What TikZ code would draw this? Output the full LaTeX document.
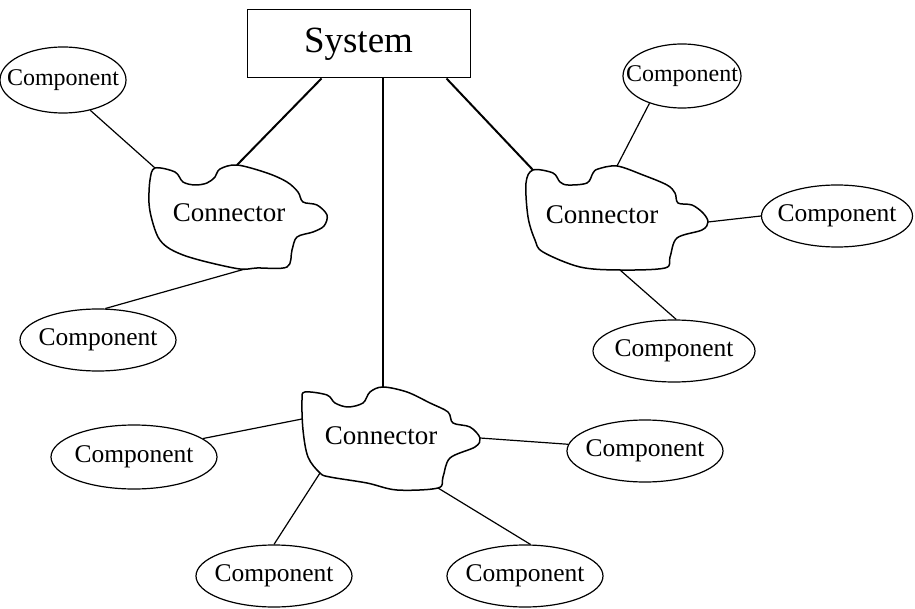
\documentclass[tikz,border=0pt]{standalone}
\usepackage{fontspec}
\setmainfont{Liberation Serif}
\usetikzlibrary{shapes.geometric}
\begin{document}
\begin{tikzpicture}[x=1pt,y=-1pt,
  comp/.style={draw, ellipse, line width=1.2pt, inner sep=0pt},
  comptext/.style={font=\fontsize{25.5}{25.5}\selectfont, inner sep=0pt},
  smalltext/.style={font=\fontsize{24}{24}\selectfont, inner sep=0pt},
  conntext/.style={font=\fontsize{27}{27}\selectfont, inner sep=0pt},
  blob/.style={line width=1.5pt, line join=round},
  sysbox/.style={draw, line width=1pt, minimum width=223pt, minimum height=68pt, inner sep=0pt, font=\fontsize{37}{37}\selectfont},
  sysline/.style={line width=2pt},
  link/.style={line width=1.2pt}]
\useasboundingbox (0,0) rectangle (915,609);

% system box
\node[sysbox] (sys) at (358.5,44) {System};
\path (sys.south west) ++(75,0) coordinate (s1);
\path (sys.south west) ++(200,0) coordinate (s3);

% connector blobs
\draw[blob] plot[smooth cycle, tension=0.55] coordinates {
 (155,168) (175,172) (183,182) (195,185) (207,183) (215,177) (220,169) (237,165)
 (267,173) (287,182) (298,192) (303,202) (317,205) (327,215) (324,226) (313,232)
 (297,237) (292,250) (287,267) (257,268) (240,269) (207,262) (183,255) (167,247)
 (158,237) (152,220) (149,203) (150,180)};
\node[conntext] (k1) at (229,213) {Connector};
\coordinate (k1a) at (237,165);
\coordinate (k1b) at (155,168);
\coordinate (k1c) at (245,269);

\draw[blob] plot[smooth cycle, tension=0.55] coordinates {
 (533,170) (553,173) (560,182) (568,185) (587,183) (593,173) (598,169) (617,166)
 (643,175) (667,185) (675,193) (678,203) (692,205) (703,213) (708,222) (702,230)
 (677,238) (670,257) (665,268) (620,270) (580,267) (543,252) (535,240) (528,217)
 (526,183)};
\node[conntext] (k2) at (602,215) {Connector};
\coordinate (k2a) at (533,170);
\coordinate (k2b) at (617,166);
\coordinate (k2c) at (708,222);
\coordinate (k2d) at (620,270);

\draw[blob] plot[smooth cycle, tension=0.55] coordinates {
 (305,392) (327,395) (335,403) (348,407) (363,403) (370,392) (383,387) (407,392)
 (430,403) (448,412) (453,423) (470,427) (480,438) (475,447) (450,458) (443,477)
 (438,488) (397,490) (367,483) (330,477) (320,473) (308,457) (303,430) (302,400)};
\node[conntext] (k3) at (381,436) {Connector};
\coordinate (k3a) at (383,387);
\coordinate (k3b) at (302,419);
\coordinate (k3c) at (480,438);
\coordinate (k3d) at (320,473);
\coordinate (k3e) at (438,488);

% components
\node[comp, minimum width=126pt, minimum height=66pt, label={[smalltext]center:Component}] (c1) at (63,80) {};
\node[comp, minimum width=156pt, minimum height=62pt, label={[comptext]center:Component}] (c2) at (98,340) {};
\node[comp, minimum width=118pt, minimum height=64pt, label={[smalltext]center:Component}] (c3) at (682,76) {};
\node[comp, minimum width=151pt, minimum height=62pt, label={[comptext]center:Component}] (c4) at (837,216) {};
\node[comp, minimum width=162pt, minimum height=62pt, label={[comptext]center:Component}] (c5) at (674,351) {};
\node[comp, minimum width=166pt, minimum height=64pt, label={[comptext]center:Component}] (c6) at (134,457) {};
\node[comp, minimum width=156pt, minimum height=62pt, label={[comptext]center:Component}] (c7) at (645,451) {};
\node[comp, minimum width=156pt, minimum height=62pt, label={[comptext]center:Component}] (c8) at (274,576) {};
\node[comp, minimum width=156pt, minimum height=62pt, label={[comptext]center:Component}] (c9) at (525,576) {};

% system links
\draw[sysline] (s1) -- (k1a);
\draw[sysline] (sys.south -| k3a) -- (k3a);
\draw[sysline] (s3) -- (k2a);

% component links
\draw[link] (k1b) -- (c1.312);
\draw[link] (k1c) -- (c2.77);
\draw[link] (k2b) -- (c3.220);
\draw[link] (k2c) -- (c4.180);
\draw[link] (k2d) -- (c5.86);
\draw[link] (k3b) -- (c6.15);
\draw[link] (k3c) -- (c7.175);
\draw[link] (k3d) -- (c8.90);
\draw[link] (k3e) -- (c9.80);
\end{tikzpicture}
\end{document}
